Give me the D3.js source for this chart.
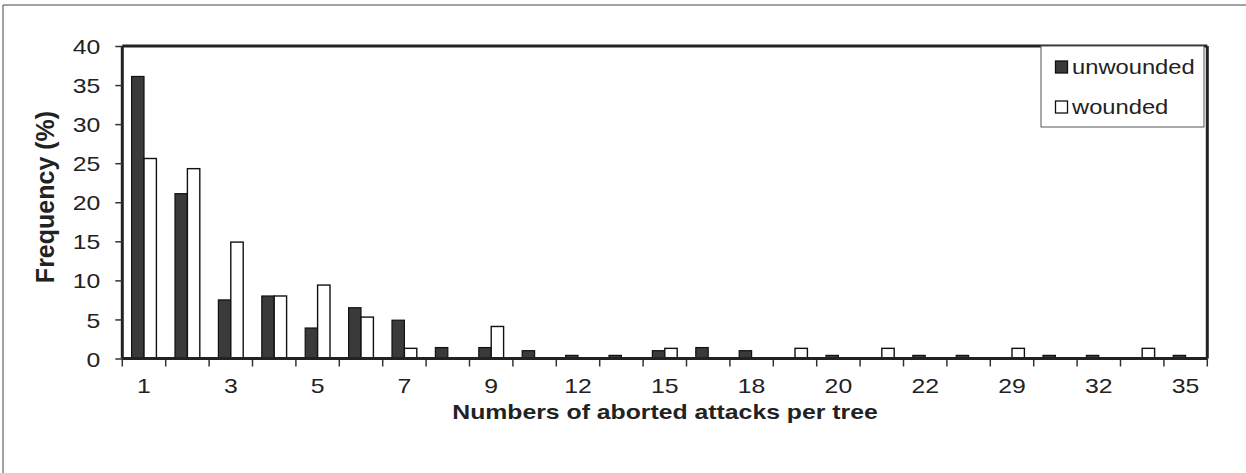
<!DOCTYPE html>
<html><head><meta charset="utf-8">
<script src="https://cdn.jsdelivr.net/npm/d3@7"></script>
<style>
html,body{margin:0;padding:0;background:#fff;}
svg{display:block;font-family:"Liberation Sans",Arial,sans-serif;}
</style></head>
<body><svg id="chart" width="1246" height="473"></svg>
<script>
// Data
const categories = ["1","2","3","4","5","6","7","8","9","10","12","13","15","16","18","19","20","21","22","25","29","30","32","34","35"];
const tickLabels = ["1","3","5","7","9","12","15","18","20","22","29","32","35"];
const unwounded = [36.1,21.1,7.5,8.0,3.9,6.5,4.9,1.4,1.4,1.0,0.4,0.4,1.0,1.4,1.0,0,0.4,0,0.4,0.4,0,0.4,0.4,0,0.4];
const wounded   = [25.6,24.3,14.9,8.0,9.4,5.3,1.3,0,4.1,0,0,0,1.3,0,0,1.3,0,1.3,0,0,1.3,0,0,1.3,0];
const yTicks = [0,5,10,15,20,25,30,35,40];
const seriesNames = ["unwounded","wounded"];

const svg = d3.select("#chart");
const L = 122.3, R = 1207.3, T = 46, B = 358.5;
const FS = 21, STRETCH = 1.18;

function stretch(sel, k){
  sel.each(function(){
    const w = this.getComputedTextLength();
    d3.select(this).attr("textLength", w*k).attr("lengthAdjust","spacingAndGlyphs");
  });
}

// outer frame lines
svg.append("line").attr("x1",3).attr("y1",5).attr("x2",1246).attr("y2",5).attr("stroke","#444").attr("stroke-width",1);
svg.append("line").attr("x1",3).attr("y1",5).attr("x2",3).attr("y2",473).attr("stroke","#444").attr("stroke-width",1);

const x = d3.scaleBand().domain(categories).range([L,R]).padding(0);
const y = d3.scaleLinear().domain([0,40]).range([B,T]);
const bw = x.bandwidth()/3.5;

// bars
const g = svg.append("g");
g.selectAll("rect.u").data(categories).join("rect").attr("class","u")
  .attr("x",d=>x(d)+x.bandwidth()/2-bw)
  .attr("y",(d,i)=>y(unwounded[i]))
  .attr("width",bw)
  .attr("height",(d,i)=>B-y(unwounded[i]))
  .attr("fill","#3a3a3a").attr("stroke","#111").attr("stroke-width",1.2)
  .style("display",(d,i)=>unwounded[i]>0?null:"none");
g.selectAll("rect.w").data(categories).join("rect").attr("class","w")
  .attr("x",d=>x(d)+x.bandwidth()/2)
  .attr("y",(d,i)=>y(wounded[i]))
  .attr("width",bw)
  .attr("height",(d,i)=>B-y(wounded[i]))
  .attr("fill","#fff").attr("stroke","#111").attr("stroke-width",1.4)
  .style("display",(d,i)=>wounded[i]>0?null:"none");

// frame (top, right)
svg.append("line").attr("x1",L).attr("y1",T).attr("x2",R).attr("y2",T).attr("stroke","#222").attr("stroke-width",3);
svg.append("line").attr("x1",R).attr("y1",T).attr("x2",R).attr("y2",B).attr("stroke","#222").attr("stroke-width",3);

// y axis
const yAxis = d3.axisLeft(y).tickValues(yTicks).tickSize(7).tickPadding(8);
const ya = svg.append("g").attr("transform",`translate(${L},0)`).call(yAxis);
ya.select(".domain").attr("stroke","#222").attr("stroke-width",3).attr("d",`M0,${B}V${T}`);
ya.selectAll(".tick line").attr("stroke","#333").attr("stroke-width",1.5);
ya.selectAll(".tick text").attr("font-size",FS).attr("fill","#222")
  .attr("font-family","Liberation Sans, Arial, sans-serif").attr("x",-22).attr("dy","0.36em");
stretch(ya.selectAll(".tick text"), STRETCH);

// x axis: ticks at band boundaries
const edges = d3.range(categories.length+1).map(i=>L+i*x.bandwidth());
const xa = svg.append("g");
xa.selectAll("line.t").data(edges).join("line").attr("class","t")
  .attr("x1",d=>d).attr("x2",d=>d).attr("y1",B).attr("y2",B+8)
  .attr("stroke","#333").attr("stroke-width",1.5);
xa.append("line").attr("x1",L).attr("x2",R).attr("y1",B).attr("y2",B).attr("stroke","#222").attr("stroke-width",3);
const xl = xa.selectAll("text").data(tickLabels).join("text")
  .attr("x",(d,i)=>x(categories[i*2])+x.bandwidth()/2)
  .attr("y",393)
  .attr("text-anchor","middle").attr("font-size",FS).attr("fill","#222")
  .text(d=>d);
stretch(xl, STRETCH);

// axis titles
const xt = svg.append("text").attr("x",665).attr("y",419).attr("text-anchor","middle")
  .attr("font-size",FS).attr("font-weight","bold").attr("fill","#222")
  .text("Numbers of aborted attacks per tree");
stretch(xt, 1.18);
svg.append("text").attr("transform","translate(54,197) rotate(-90)").attr("text-anchor","middle")
  .attr("font-size",25).attr("font-weight","bold").attr("fill","#222")
  .text("Frequency (%)");

// legend
const lg = svg.append("g");
lg.append("rect").attr("x",1041).attr("y",46).attr("width",163).attr("height",81)
  .attr("fill","#fff").attr("stroke","#555").attr("stroke-width",1);
const fills = ["#3a3a3a","#fff"];
seriesNames.forEach((n,i)=>{
  lg.append("rect").attr("x",1055.5).attr("y",61+i*40).attr("width",12).attr("height",12)
    .attr("fill",fills[i]).attr("stroke","#111").attr("stroke-width",1.3);
  const t = lg.append("text").attr("x",1072).attr("y",74+i*40).attr("font-size",FS).attr("fill","#222").text(n);
  stretch(t, 1.13);
});
</script></body></html>
